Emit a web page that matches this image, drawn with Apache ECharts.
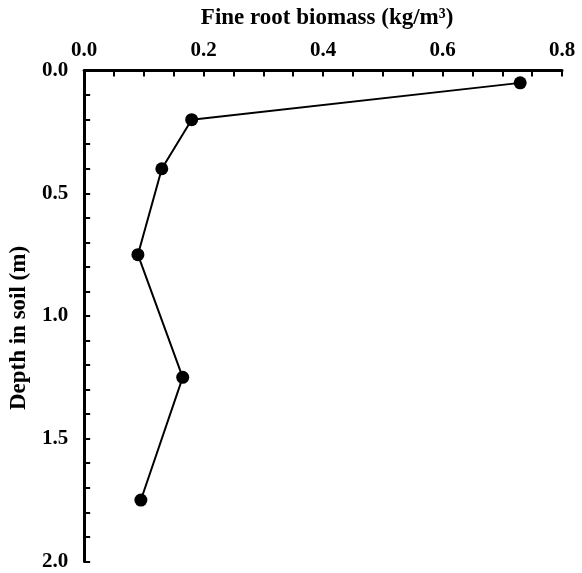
<!DOCTYPE html>
<html>
<head>
<meta charset="utf-8">
<script src="https://cdn.jsdelivr.net/npm/echarts@6/dist/echarts.min.js"></script>
<style>
html,body{margin:0;padding:0;background:#fff;}
#chart{width:582px;height:573px;}
</style>
</head>
<body>
<div id="chart"></div>
<script>
// Data
var biomass = [0.73, 0.18, 0.13, 0.09, 0.165, 0.095];   // kg/m3
var depth   = [0.05, 0.2, 0.4, 0.75, 1.25, 1.75];       // m
var xTicks  = [0.0, 0.2, 0.4, 0.6, 0.8];
var yTicks  = [0.0, 0.5, 1.0, 1.5, 2.0];
var xTitle  = 'Fine root biomass (kg/m\u00B3)';
var yTitle  = 'Depth in soil (m)';

var font = "'Liberation Serif','Times New Roman',serif";
var points = biomass.map(function (v, i) { return [v, depth[i]]; });

var chart = echarts.init(document.getElementById('chart'), null, {renderer: 'canvas'});
chart.setOption({
  animation: false,
  backgroundColor: '#fff',
  grid: {left: 79.5, right: 20, top: 70.6, bottom: 11.6, containLabel: false},
  xAxis: {
    type: 'value', position: 'top',
    min: xTicks[0], max: xTicks[xTicks.length - 1], interval: 0.2,
    name: xTitle, nameLocation: 'middle', nameGap: 41,
    nameTextStyle: {fontFamily: font, fontWeight: 'bold', fontSize: 23, color: '#000', padding: [0, 0, 0, 8]},
    axisLine: {show: true, lineStyle: {color: '#000', width: 3}},
    axisTick: {show: true, inside: true, length: 6, lineStyle: {color: '#000', width: 2}},
    minorTick: {show: true, splitNumber: 4, length: 6, lineStyle: {color: '#000', width: 2}},
    splitLine: {show: false},
    axisLabel: {fontFamily: font, fontWeight: 'bold', fontSize: 21, color: '#000', margin: 10,
      formatter: function (v) { return v.toFixed(1); }}
  },
  yAxis: {
    type: 'value', inverse: true,
    min: yTicks[0], max: yTicks[yTicks.length - 1], interval: 0.5,
    name: yTitle, nameLocation: 'middle', nameGap: 53, nameRotate: 90,
    nameTextStyle: {fontFamily: font, fontWeight: 'bold', fontSize: 23, color: '#000', padding: [0, 24, 0, 0]},
    axisLine: {show: true, lineStyle: {color: '#000', width: 3}},
    axisTick: {show: true, inside: true, length: 6, lineStyle: {color: '#000', width: 2}},
    minorTick: {show: true, splitNumber: 5, length: 6, lineStyle: {color: '#000', width: 2}},
    splitLine: {show: false},
    axisLabel: {fontFamily: font, fontWeight: 'bold', fontSize: 21, color: '#000', margin: 16,
      formatter: function (v) { return v.toFixed(1); }}
  },
  series: [{
    type: 'line',
    data: points,
    symbol: 'circle', symbolSize: 13,
    itemStyle: {color: '#000'},
    lineStyle: {color: '#000', width: 2}
  }]
});
</script>
</body>
</html>
